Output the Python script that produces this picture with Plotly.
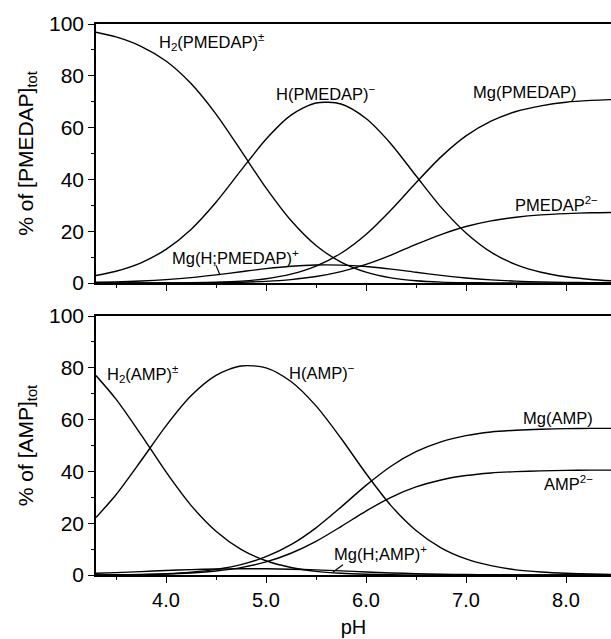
import plotly.graph_objects as go

ph = [3.3, 3.5, 3.75, 4.0, 4.25, 4.5, 4.75, 5.0, 5.25, 5.5, 5.75, 6.0, 6.25,
      6.5, 6.75, 7.0, 7.25, 7.5, 7.75, 8.0, 8.25, 8.45]

# PMEDAP system (% of [PMEDAP]tot)
pm_h2l = [96.8, 95.0, 91.4, 85.7, 77.0, 65.2, 51.1, 36.7, 24.1, 14.5, 8.1, 4.2, 2.0,
          0.87, 0.34, 0.13, 0.04, 0.02, 0.01, 0.0, 0.0, 0.0]
pm_hl = [2.9, 4.55, 7.8, 13.0, 20.7, 31.2, 43.5, 55.5, 64.8, 69.5, 69.1, 63.5, 53.7,
         41.4, 29.3, 19.3, 11.9, 7.1, 4.15, 2.4, 1.36, 0.86]
pm_mhl = [0.29, 0.45, 0.78, 1.3, 2.07, 3.12, 4.35, 5.55, 6.48, 6.95, 6.91, 6.35, 5.37,
          4.14, 2.93, 1.93, 1.2, 0.71, 0.42, 0.24, 0.14, 0.09]
pm_ml = [0.0, 0.0, 0.01, 0.04, 0.11, 0.29, 0.72, 1.64, 3.4, 6.5, 11.5, 18.75, 28.2,
         38.7, 48.7, 56.8, 62.5, 66.2, 68.4, 69.8, 70.5, 70.8]
pm_l = [0.0, 0.0, 0.01, 0.02, 0.04, 0.11, 0.28, 0.63, 1.31, 2.5, 4.4, 7.2, 10.8,
        14.9, 18.7, 21.8, 24.0, 25.4, 26.3, 26.8, 27.1, 27.2]

# AMP system (% of [AMP]tot)
amp_h2l = [77.0, 67.9, 54.2, 39.8, 26.9, 16.9, 9.9, 5.5, 2.9, 1.4, 0.65, 0.27, 0.1,
           0.04, 0.01, 0.0, 0.0, 0.0, 0.0, 0.0, 0.0, 0.0]
amp_hl = [22.2, 31.0, 44.1, 57.6, 69.2, 77.1, 80.7, 80.0, 74.7, 65.3, 52.8, 39.2, 26.8,
          17.2, 10.5, 6.2, 3.6, 2.0, 1.16, 0.66, 0.37, 0.23]
amp_mhl = [0.67, 0.93, 1.32, 1.73, 2.07, 2.31, 2.42, 2.4, 2.24, 1.96, 1.58, 1.18, 0.8,
           0.52, 0.31, 0.19, 0.11, 0.06, 0.03, 0.02, 0.01, 0.01]
amp_ml = [0.04, 0.09, 0.22, 0.51, 1.09, 2.15, 4.0, 7.06, 11.7, 18.2, 26.2, 34.6, 42.0,
          47.6, 51.4, 53.8, 55.2, 55.9, 56.3, 56.5, 56.6, 56.6]
amp_l = [0.03, 0.06, 0.16, 0.36, 0.78, 1.54, 2.87, 5.05, 8.4, 13.0, 18.7, 24.7, 30.0,
         34.0, 36.7, 38.4, 39.4, 39.9, 40.2, 40.4, 40.5, 40.5]

x_ticks = [4.0, 5.0, 6.0, 7.0, 8.0]
x_ticktext = ["4.0", "5.0", "6.0", "7.0", "8.0"]
y_ticks = [0, 20, 40, 60, 80, 100]

FONT = "Liberation Sans, Arial, Helvetica, sans-serif"
LW = 1.4

fig = go.Figure()

top = [pm_h2l, pm_hl, pm_mhl, pm_ml, pm_l]
bot = [amp_h2l, amp_hl, amp_mhl, amp_ml, amp_l]
for s in top:
    fig.add_trace(go.Scatter(x=ph, y=s, mode="lines", xaxis="x2", yaxis="y2",
                             line=dict(color="black", width=LW, shape="spline", smoothing=0.8),
                             showlegend=False, hoverinfo="skip"))
for s in bot:
    fig.add_trace(go.Scatter(x=ph, y=s, mode="lines", xaxis="x", yaxis="y",
                             line=dict(color="black", width=LW, shape="spline", smoothing=0.8),
                             showlegend=False, hoverinfo="skip"))

xcommon = dict(range=[3.3, 8.45], tickvals=x_ticks, ticktext=x_ticktext,
               ticks="outside", ticklen=6, tickwidth=1.2, tickcolor="black",
               showline=True, linecolor="black", linewidth=1.5, mirror=True,
               showgrid=False, zeroline=False,
               minor=dict(tickvals=[3.5, 4.5, 5.5, 6.5, 7.5], ticks="outside", ticklen=3,
                          tickwidth=1.2, tickcolor="black"),
               tickfont=dict(family=FONT, size=20, color="black"))
ycommon = dict(range=[0, 100], tickvals=y_ticks, ticks="outside", ticklen=6,
               tickwidth=1.2, tickcolor="black",
               showline=True, linecolor="black", linewidth=1.5, mirror=False,
               showgrid=False, zeroline=False,
               minor=dict(tickvals=[10, 30, 50, 70, 90], ticks="outside", ticklen=3,
                          tickwidth=1.2, tickcolor="black"),
               tickfont=dict(family=FONT, size=21, color="black"))

bdom = [0, 259 / 551]
tdom = [292 / 551, 1]

fig.update_layout(
    width=611, height=639,
    margin=dict(l=96, r=0, t=24, b=64, autoexpand=False),
    paper_bgcolor="white", plot_bgcolor="white",
    xaxis=dict(xcommon, domain=[0, 1], anchor="y",
               title=dict(text="pH", font=dict(family=FONT, size=20, color="black"), standoff=10)),
    yaxis=dict(ycommon, domain=bdom, anchor="x",
               title=dict(text="% of [AMP]<sub>tot</sub>", font=dict(family=FONT, size=21, color="black"), standoff=10)),
    xaxis2=dict(xcommon, domain=[0, 1], anchor="y2", showticklabels=False, matches="x"),
    yaxis2=dict(ycommon, domain=tdom, anchor="x2",
                title=dict(text="% of [PMEDAP]<sub>tot</sub>", font=dict(family=FONT, size=21, color="black"), standoff=10)),
)

afont = dict(family=FONT, size=16.5, color="black")
labels = [
    ("x2", "y2", 4.45, 93.0, "H<sub>2</sub>(PMEDAP)<sup>±</sup>"),
    ("x2", "y2", 5.60, 73.5, "H(PMEDAP)<sup>−</sup>"),
    ("x2", "y2", 7.585, 73.7, "Mg(PMEDAP)"),
    ("x2", "y2", 7.90, 30.5, "PMEDAP<sup>2−</sup>"),
    ("x2", "y2", 4.69, 10.0, "Mg(H;PMEDAP)<sup>+</sup>"),
    ("x", "y", 3.765, 77.5, "H<sub>2</sub>(AMP)<sup>±</sup>"),
    ("x", "y", 5.555, 78.5, "H(AMP)<sup>−</sup>"),
    ("x", "y", 7.915, 60.8, "Mg(AMP)"),
    ("x", "y", 8.02, 35.4, "AMP<sup>2−</sup>"),
    ("x", "y", 6.14, 8.4, "Mg(H;AMP)<sup>+</sup>"),
]
for xr, yr, x, y, t in labels:
    fig.add_annotation(xref=xr, yref=yr, x=x, y=y, text=t, showarrow=False, font=afont)

# leader lines for the small complexes
fig.add_shape(type="line", xref="x2", yref="y2", x0=4.50, y0=6.8, x1=4.54, y1=3.1,
              line=dict(color="black", width=1.2))
fig.add_shape(type="line", xref="x", yref="y", x0=5.77, y0=4.0, x1=5.67, y1=1.2,
              line=dict(color="black", width=1.2))

fig.write_html("out.html", config={"displayModeBar": False},
               post_script="document.body.style.margin='0';document.body.style.overflow='hidden';")
